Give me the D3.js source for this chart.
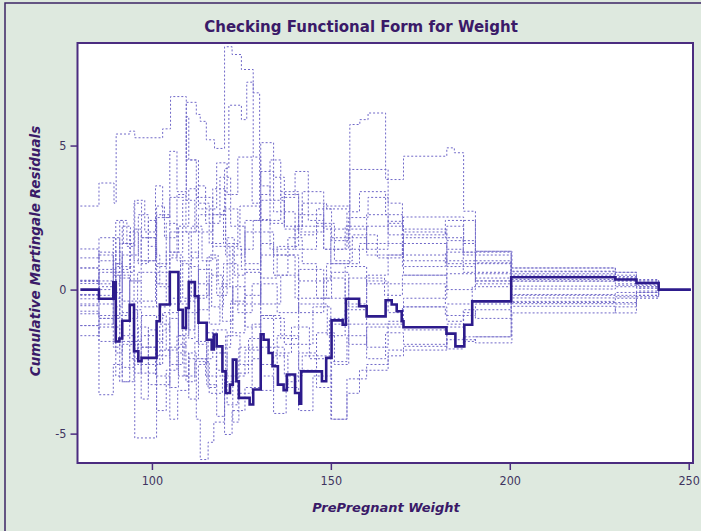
<!DOCTYPE html>
<html>
<head>
<meta charset="utf-8">
<script src="https://cdn.jsdelivr.net/npm/d3@7"></script>
<style>
  body { margin: 0; background: #dee9df; }
  svg { display: block; }
</style>
</head>
<body>
<svg id="chart"></svg>
<script>
// observed cumulative martingale residuals (step after each weight)
var obsWeight = [80, 85.2, 89.2, 89.9, 90.9, 91.7, 93.8, 95.0, 96.2, 97.1, 101.3, 102.2, 105.0, 107.4, 108.6, 109.5,
  110.3, 112.0, 113.0, 115.3, 116.7, 117.3, 118.1, 119.7, 120.6, 121.8, 122.6, 123.6, 124.3, 127.3, 128.3,
  130.4, 131.2, 132.6, 133.7, 135.2, 136.8, 137.7, 140.0, 141.2, 141.7, 147.5, 148.7, 150.2, 153.3, 154.2,
  157.9, 160.0, 165.3, 167.0, 168.4, 169.8, 170.3, 182.3, 184.8, 187.3, 189.5, 200.4, 229.5, 235.4, 241.6, 250.6]
var obsResid = [0, -0.32, 0.25, -1.80, -1.70, -1.08, -0.53, -2.14, -2.49, -2.37, -1.10, -0.52, 0.61, -0.70, -1.33, -0.64,
  0.26, -0.23, -1.15, -1.74, -2.08, -1.56, -1.97, -2.84, -3.59, -3.30, -2.43, -3.18, -3.76, -3.99, -3.47,
  -1.55, -1.74, -2.20, -2.66, -3.30, -3.49, -2.95, -3.59, -3.96, -2.84, -3.18, -2.37, -1.07, -1.22, -0.32,
  -0.58, -0.93, -0.37, -0.52, -0.75, -1.10, -1.31, -1.53, -1.97, -1.22, -0.41, 0.43, 0.35, 0.23, 0, 0]

// simulated paths, [weight, residual] pairs
var simulated = [
  [[80,2.9],[85.2,3.7],[89.4,3.0],[90,5.4],[93.8,5.5],[95.2,5.27],[103,5.58],[105.2,6.7],[109.6,4.5],[112.4,3.2],[117,1.5],[122.6,-0.5],[130.4,1.2],[141,0.3],[150,1.8],[160,1.2],[170,1.9],[182,2.4],[190.4,1.0],[200.4,0.62],[229.5,0.5],[235.4,0.3],[241.6,0]],
  [[80,0.75],[85.2,1.2],[89.2,0.2],[91,1.6],[95,1.0],[101,2.5],[105,3.2],[109.6,6.5],[112.4,6.08],[113.5,5.84],[115.2,5.2],[117.5,4.9],[120.3,8.43],[122.4,8.16],[125,7.64],[128.3,6.83],[130.1,2.43],[133,1.4],[140,2.2],[150,0.9],[158,1.6],[170,0.8],[182,1.3],[190.4,0.6],[200.4,0.3],[235.4,0.1],[241.6,0]],
  [[80,-0.17],[85.2,-0.5],[89.9,0.8],[95,-0.4],[101,0.9],[105,2.0],[110.3,1.1],[113,2.6],[120.6,1.2],[126,2.4],[130.4,3.1],[137,2.1],[142,3.0],[148.8,2.8],[155.3,5.73],[158.1,5.9],[160.4,6.13],[165.3,3.82],[170.3,4.63],[182.4,4.92],[184.5,4.75],[187.1,2.72],[190.4,1.33],[200.6,0.75],[229.5,0.6],[235.4,0.35],[241.6,0]],
  [[80,-0.56],[85.2,-1.0],[89.9,0.9],[91.7,-0.4],[95,-1.8],[97,-0.9],[101.3,-2.3],[105,-1.0],[107.4,-3.0],[110.3,-2.2],[112.4,-4.5],[113.5,-5.9],[115.7,-5.3],[117.3,-4.6],[120.3,-3.2],[124.3,-2.0],[130.4,-1.0],[137,-1.9],[145,-0.6],[150,-1.2],[155,0.4],[165,-0.2],[170,0.2],[182,-0.5],[189.5,0.1],[200.4,-0.2],[235.4,-0.1],[241.6,0]],
  [[80,-1.6],[85.2,-1.0],[89.9,-2.2],[91.7,-1.6],[95.2,-5.15],[101.3,-3.3],[105,-2.0],[109.5,-0.8],[113,-2.4],[117,-1.4],[121,-3.0],[126,-2.1],[130.4,-0.9],[136,-1.7],[141,-0.5],[149,-1.6],[154,-0.7],[160,-1.2],[170,-0.6],[182,-0.9],[190.4,-0.5],[200.4,-0.41],[229.5,-0.3],[235.4,-0.1],[241.6,0]],
  [[80,-1.25],[85.2,-3.65],[89.2,-2.6],[91.7,-3.2],[95,-2.0],[101,-3.0],[105,-4.5],[107.2,-3.5],[110.3,-2.4],[115,-3.0],[120.3,-5.03],[122.4,-4.2],[126,-3.4],[130.4,-2.0],[137,-3.0],[142,-2.3],[150,-4.5],[154.5,-3.1],[160,-2.6],[166,-2.1],[170.3,-1.97],[182.4,-1.74],[190.4,-1.85],[200.6,-0.81],[229.5,-0.6],[235.4,-0.2],[241.6,0]],
  [[80,1.41],[85.2,1.0],[89.9,2.4],[92,1.6],[95,3.0],[97.1,1.8],[101.3,2.6],[105,1.3],[108.6,3.1],[112,2.0],[117,3.5],[120.6,1.6],[124.6,2.9],[130.4,0.4],[135,1.5],[141,2.6],[148,1.4],[154,2.2],[160,1.4],[166,2.37],[170.3,2.52],[187.1,1.6],[190.4,1.3],[200.4,0.64],[229.5,0.45],[235.4,0.25],[241.6,0]],
  [[80,0.32],[85.2,0.1],[89.2,1.8],[91,0.5],[93.8,-1.0],[96,0.6],[101.3,-0.6],[104,1.3],[107.4,2.2],[110.3,3.5],[113,2.8],[118.1,4.4],[121,3.3],[124,4.6],[128,3.0],[130.4,4.1],[134,2.7],[140,1.4],[146,2.3],[151,1.0],[156,1.9],[163,1.1],[170,1.6],[182.4,0.9],[187,0.6],[190.4,0.93],[200.4,0.5],[229.5,0.4],[235.4,0.2],[241.6,0]],
  [[80,0.21],[85.2,0.7],[89.9,-1.0],[91.7,-2.7],[95,-1.9],[97,-2.9],[101.3,-1.8],[103,-0.8],[107.4,-1.9],[109.5,-3.2],[112,-2.5],[116,-3.6],[119.7,-2.0],[122,-0.4],[126,0.6],[130.4,-0.5],[136,0.5],[141,-0.8],[148,0.4],[154,-0.5],[160,0.3],[166,-0.8],[170.3,-0.3],[182.4,0.55],[190.4,0.2],[200.4,0.02],[229.5,0.1],[235.4,0.05],[241.6,0]],
  [[80,-0.32],[85.2,0.3],[89.2,-1.3],[91,-3.2],[93.8,-2.2],[97,-3.8],[99,-2.6],[102.2,-1.2],[105,-2.6],[108.6,-1.4],[112,-0.2],[116,1.2],[118.5,0.2],[121.8,1.5],[125,0.7],[130.4,2.0],[134,1.2],[140,-0.3],[148.8,0.9],[155.3,4.17],[166,3.0],[170,2.1],[182,1.8],[187,1.2],[200.4,0.29],[229.5,0.2],[235.4,0.1],[241.6,0]],
  [[80,-0.75],[85.2,-1.2],[89.2,-0.1],[91.7,1.2],[94,0.3],[97,1.8],[101,0.8],[104,2.3],[107,1.0],[110.3,-0.2],[113,0.7],[116.7,-0.6],[120,0.9],[124,-0.8],[128,0.2],[130.4,-0.9],[134,-2.2],[139,-1.3],[144,-2.4],[149.6,-1.0],[155,-1.9],[160,-1.3],[170.3,-0.6],[182.4,-1.1],[187,-0.7],[200.4,-0.29],[229.5,-0.25],[235.4,-0.1],[241.6,0]],
  [[80,1.1],[85.2,1.8],[89.9,0.6],[91.7,2.2],[94,1.2],[96.2,2.6],[99,1.5],[101.3,0.2],[105,1.1],[108,-0.4],[110.3,0.8],[113,-0.7],[116,0.5],[119.7,-1.1],[122.6,0.1],[126,-1.3],[130.4,0.2],[135,-0.8],[141,0.7],[148,-0.3],[154,0.8],[160,0.2],[170,0.5],[182.4,0.0],[190.4,0.4],[200.4,0.12],[229.5,0.15],[235.4,0.05],[241.6,0]],
  [[80,-0.2],[85.2,-0.9],[89.2,-2.0],[91,-0.8],[93.8,-2.4],[96.2,-1.3],[99,-3.3],[101.3,-2.1],[105,-3.4],[107.4,-2.2],[110.3,-3.8],[113,-2.6],[115.3,-1.5],[118.1,-2.8],[120.6,-1.6],[124.6,-2.6],[128,-1.2],[130.4,-2.6],[135,-1.6],[141,-2.8],[146,-1.5],[151,-2.6],[155,-1.2],[160,-2.0],[166,-1.1],[170.3,-1.4],[182.4,-2.06],[187,-1.64],[200.4,-0.49],[229.5,-0.45],[235.4,-0.2],[241.6,0]],
  [[80,0.28],[85.2,0.0],[89.9,1.3],[91.7,0.6],[95,2.1],[97,1.0],[101.3,2.9],[103.5,1.8],[107,3.3],[109.5,2.0],[112.4,3.6],[115,2.3],[119,3.9],[122,2.2],[126,0.9],[130.4,2.4],[136,3.4],[141,2.0],[148,2.9],[155.3,2.1],[160,2.6],[166,1.9],[170.3,1.0],[182.4,1.7],[187,1.3],[190.4,0.55],[200.4,0.75],[229.5,0.6],[235.4,0.3],[241.6,0]],
  [[80,-0.5],[85.2,-0.2],[89.2,0.9],[91,2.4],[93,1.5],[95.2,3.1],[98,2.0],[101,3.6],[103,2.5],[105,4.8],[107,3.4],[109.6,6.0],[110.3,4.5],[113,3.0],[116,1.6],[120,2.8],[124,1.4],[128.3,2.4],[130.4,5.1],[134,3.9],[137,2.2],[142,3.4],[148,2.1],[155,1.4],[160,2.2],[170.3,1.2],[182.4,0.8],[190.4,0.3],[200.4,-0.17],[229.5,-0.1],[235.4,-0.05],[241.6,0]],
  [[80,-0.84],[85.2,-1.3],[89.9,-0.3],[91.7,-1.8],[95,-0.7],[97.1,-2.0],[101.3,-0.9],[104,-2.1],[107.4,-0.5],[110.3,-1.7],[112,-0.3],[115.3,1.1],[118.1,-0.2],[121,1.8],[123,0.5],[126,2.0],[130.4,3.3],[133,4.5],[136,3.2],[140,4.1],[143.7,2.4],[148,1.4],[154.5,2.7],[158,3.4],[165.3,2.6],[170,1.8],[182.4,2.2],[187.1,1.7],[190.4,1.33],[200.4,0.55],[229.5,0.4],[235.4,0.2],[241.6,0]],
  [[80,0.75],[85.2,0.2],[89.2,-0.9],[91,0.4],[93.8,-0.8],[96,-2.6],[99,-1.4],[101.3,-4.2],[104,-2.8],[107,-1.6],[109,-3.0],[112,-1.8],[115.7,-3.4],[118,-2.2],[121,-4.0],[124,-2.9],[127,-1.7],[130.4,-3.0],[134,-4.3],[137.5,-3.2],[141,-2.2],[146,-3.4],[150.2,-2.5],[154.5,-1.6],[160,-2.4],[165.3,-1.5],[170.3,-1.9],[182.4,-1.2],[187.1,-0.8],[190.4,-1.0],[200.4,-0.58],[229.5,-0.81],[235.4,-0.3],[241.6,0]],
  [[80,-0.17],[85.2,0.6],[89.9,-0.6],[91.7,0.7],[93.8,2.0],[96.2,0.9],[99,2.4],[101.3,1.2],[102.2,0.1],[105,1.2],[108.6,-0.3],[111,1.3],[113,0.2],[116,-1.2],[119,0.1],[122.6,-1.5],[126,-0.2],[130.4,1.6],[134,0.5],[138,1.8],[142,0.9],[146,-0.3],[150.2,0.6],[155,-0.6],[160,0.5],[166,1.2],[170.3,0.5],[182.4,1.0],[190.4,0.3],[200.4,0.35],[229.5,0.3],[235.4,0.15],[241.6,0]],
  [[80,0.32],[85.2,1.3],[89.2,0.5],[91,-0.9],[93.8,0.3],[97,-0.6],[101.3,0.6],[105,-0.5],[108,0.9],[111,2.2],[114,1.0],[117,2.6],[120.3,4.2],[121.5,6.4],[125,5.9],[126.5,7.2],[128.3,4.6],[130.4,3.6],[133,2.3],[137,3.3],[141,1.9],[146,2.8],[150.2,1.7],[155,2.5],[160.4,3.2],[166,2.3],[170.3,2.0],[182.4,1.4],[187,0.9],[200.4,0.45],[229.5,0.35],[235.4,0.2],[241.6,0]],
  [[80,-1.25],[85.2,-1.8],[89.9,-3.0],[91.7,-1.9],[95.2,-2.9],[97,-1.6],[101.3,-2.6],[103,-1.4],[105,-0.3],[107.4,-1.6],[110.3,-0.4],[113,-1.9],[115.3,-3.3],[118.1,-4.4],[120.3,-3.3],[122.6,-4.6],[124.3,-3.6],[128,-2.4],[130.4,-3.5],[134,-2.3],[138,-3.4],[141,-4.2],[145,-3.0],[150.2,-4.5],[154.5,-3.6],[158,-2.8],[166,-2.3],[170.3,-2.1],[182.4,-1.3],[187.1,-1.8],[190.4,-1.64],[200.4,-0.45],[229.5,-0.5],[235.4,-0.25],[241.6,0]]
]

var xTicks = [100, 150, 200, 250]
var yTicks = [-5, 0, 5]
var lastWeight = 250.6

var W = 701, H = 531
var margin = {top: 43, right: 8, bottom: 68, left: 77.5}

var svg = d3.select("#chart").attr("width", W).attr("height", H)

// outer panel
svg.append("rect")
  .attr("x", 5).attr("y", 3)
  .attr("width", W + 10).attr("height", H + 10)
  .attr("fill", "#dee9df")
  .attr("stroke", "#3d2466")
  .attr("stroke-width", 1.5)

var x = d3.scaleLinear().domain([79.2, 251.2]).range([margin.left, W - margin.right])
var y = d3.scaleLinear().domain([-6.02, 8.56]).range([H - margin.bottom, margin.top])

// plot area
svg.append("rect")
  .attr("x", margin.left).attr("y", margin.top)
  .attr("width", W - margin.right - margin.left)
  .attr("height", H - margin.bottom - margin.top)
  .attr("fill", "white")

svg.append("clipPath").attr("id", "clip")
  .append("rect")
  .attr("x", margin.left).attr("y", margin.top)
  .attr("width", W - margin.right - margin.left)
  .attr("height", H - margin.bottom - margin.top)

var line = d3.line()
  .x(function(d){ return x(d[0]) })
  .y(function(d){ return y(d[1]) })
  .curve(d3.curveStepAfter)

var plot = svg.append("g").attr("clip-path", "url(#clip)")

plot.append("g")
  .selectAll("path")
  .data(simulated)
  .enter()
  .append("path")
  .attr("d", function(d){ return line(d.concat([[lastWeight, d[d.length - 1][1]]])) })
  .attr("fill", "none")
  .attr("stroke", "#7068c8")
  .attr("stroke-width", 1)
  .attr("stroke-dasharray", "2,2")

var observed = obsWeight.map(function(w, i){ return [w, obsResid[i]] })
plot.append("path")
  .attr("d", line(observed))
  .attr("fill", "none")
  .attr("stroke", "#2d1b8c")
  .attr("stroke-width", 2.6)

// frame
svg.append("rect")
  .attr("x", margin.left).attr("y", margin.top)
  .attr("width", W - margin.right - margin.left)
  .attr("height", H - margin.bottom - margin.top)
  .attr("fill", "none")
  .attr("stroke", "#4b2c80")
  .attr("stroke-width", 2)

// axes
var xAxis = svg.append("g")
  .attr("transform", "translate(0," + (H - margin.bottom) + ")")
  .call(d3.axisBottom(x).tickValues(xTicks).tickSize(7).tickPadding(6)
    .tickFormat(function(d){ return String(d) }))
var yAxis = svg.append("g")
  .attr("transform", "translate(" + margin.left + ",0)")
  .call(d3.axisLeft(y).tickValues(yTicks).tickSize(7).tickPadding(4)
    .tickFormat(function(d){ return String(d) }))

svg.selectAll(".domain").remove()
svg.selectAll(".tick line").attr("stroke", "#4b2c80").attr("stroke-width", 1.5)
svg.selectAll(".tick text")
  .attr("fill", "#3e3460")
  .style("font-family", "'DejaVu Sans Condensed', 'DejaVu Sans', sans-serif")
  .style("font-size", "12.5px")

// titles
svg.append("text")
  .attr("x", 361).attr("y", 32)
  .attr("text-anchor", "middle")
  .attr("fill", "#3a1a68")
  .style("font-family", "'DejaVu Sans', sans-serif")
  .style("font-weight", "bold")
  .style("font-size", "15px")
  .text("Checking Functional Form for Weight")

svg.append("text")
  .attr("x", 386).attr("y", 512)
  .attr("text-anchor", "middle")
  .attr("fill", "#3a1a68")
  .style("font-family", "'DejaVu Sans', sans-serif")
  .style("font-weight", "bold")
  .style("font-style", "italic")
  .style("font-size", "13px")
  .text("PrePregnant Weight")

svg.append("text")
  .attr("transform", "translate(40,251) rotate(-90)")
  .attr("text-anchor", "middle")
  .attr("fill", "#3a1a68")
  .style("font-family", "'DejaVu Sans', sans-serif")
  .style("font-weight", "bold")
  .style("font-style", "italic")
  .style("font-size", "13.5px")
  .text("Cumulative Martingale Residuals")
</script>
</body>
</html>
